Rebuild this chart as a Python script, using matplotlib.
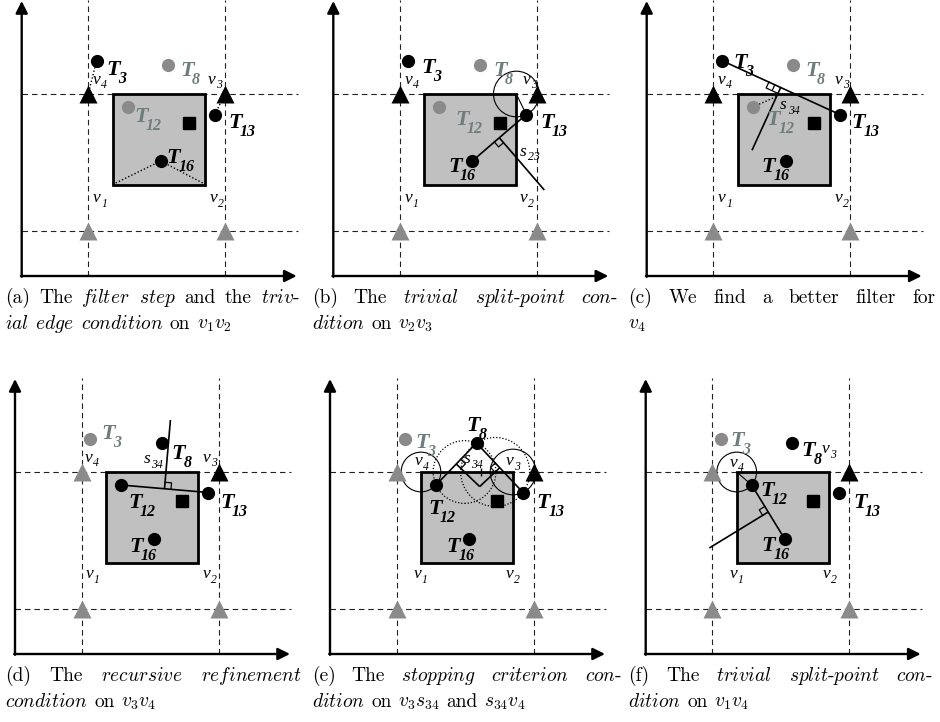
import numpy as np
import matplotlib
matplotlib.use('Agg')
import matplotlib.pyplot as plt
from matplotlib.patches import Rectangle, Circle

plt.rcParams['mathtext.fontset'] = 'cm'

W, H = 940, 722

# sites, query point and grid (local units, origin at the axis corner)
site_names = ['3', '8', '12', '13', '16']
site_x = [75.0, 146.5, 106.0, 193.0, 139.0]
site_y = [215.5, 211.0, 169.0, 161.5, 115.0]
query_x, query_y = 167.0, 153.5
grid_x = [66.5, 203.5]
grid_y = [45.0, 182.0]
cell_x = [91.0, 183.0]
cell_y = [91.0, 182.0]

# which sites are greyed out in each sub-figure
grey_sites = [{'8', '12'}] * 3 + [{'3'}] * 3
grey_v4 = [False] * 3 + [True] * 3

captions = [
    (["(a)", "The", r"$\mathit{filter}$", r"$\mathit{step}$", "and", "the", r"$\mathit{triv}$-"],
     [r"$\mathit{ial}$", r"$\mathit{edge}$", r"$\mathit{condition}$", "on", r"$v_1v_2$"]),
    (["(b)", "The", r"$\mathit{trivial}$", r"$\mathit{split}$-$\mathit{point}$", r"$\mathit{con}$-"],
     [r"$\mathit{dition}$", "on", r"$v_2v_3$"]),
    (["(c)", "We", "find", "a", "better", "filter", "for"],
     [r"$v_4$"]),
    (["(d)", "The", r"$\mathit{recursive}$", r"$\mathit{refinement}$"],
     [r"$\mathit{condition}$", "on", r"$v_3v_4$"]),
    (["(e)", "The", r"$\mathit{stopping}$", r"$\mathit{criterion}$", r"$\mathit{con}$-"],
     [r"$\mathit{dition}$", "on", r"$v_3s_{34}$", "and", r"$s_{34}v_4$"]),
    (["(f)", "The", r"$\mathit{trivial}$", r"$\mathit{split}$-$\mathit{point}$", r"$\mathit{con}$-"],
     [r"$\mathit{dition}$", "on", r"$v_1v_4$"]),
]

# layout
origins = [(21.7, 276), (333.3, 276), (646.7, 276), (15, 654), (330, 654), (645.7, 654)]
cap_span = [(5, 300), (312, 618), (628, 935), (5, 302), (312, 622), (628, 933)]
cap_base = [(303, 329)] * 3 + [(681, 707)] * 3
CAP_SIZE = 14

tpos = [
    {'3': (91.6, 207.7), '8': (165, 206), '12': (119, 160.5), '13': (213.3, 154.3), '16': (151.6, 119.3)},
    {'3': (95, 209.3), '8': (166.7, 206), '12': (128.4, 157.7), '13': (213.4, 154.3), '16': (121.7, 110)},
    {'3': (93.3, 214.3), '8': (165, 206), '12': (126.6, 157.7), '13': (211.6, 154.3), '16': (121.6, 111)},
    {'3': (93.3, 221.3), '8': (163.3, 201.3), '12': (120, 153), '13': (211.7, 153), '16': (121, 108)},
    {'3': (91.7, 213), '8': (143.3, 229.7), '12': (105, 146.3), '13': (213.3, 153), '16': (123.3, 108)},
    {'3': (91, 214.7), '8': (162.6, 204.7), '12': (121, 164.7), '13': (214.3, 153), '16': (122.6, 109.7)},
]
vpos = [
    {'4': (75, 196), '3': (190, 196), '1': (75, 77.7), '2': (191.6, 77.7)},
    {'4': (75, 196), '3': (193, 196), '1': (75, 77.7), '2': (190, 77.7)},
    {'4': (75, 196), '3': (191.6, 196), '1': (75, 77.7), '2': (191.6, 77.7)},
    {'4': (73.3, 196.3), '3': (191.7, 196.3), '1': (74.3, 79.7), '2': (191.7, 79.7)},
    {'4': (88.3, 193), '3': (180, 193), '1': (87.3, 79.7), '2': (180, 79.7)},
    {'4': (87.6, 191.3), '3': (180, 205), '1': (87.6, 79.7), '2': (181, 79.7)},
]

GREY = '#8a8a8a'
GREY_TXT = '#6d7d7d'
SERIF = 'Liberation Serif'


def site(name):
    i = site_names.index(name)
    return np.array([site_x[i], site_y[i]])


def unit(v):
    return v / np.hypot(v[0], v[1])


def perp(d, hint):
    n = np.array([-d[1], d[0]])
    return n if np.dot(n, hint) > 0 else -n


def seg(ax, a, b, **kw):
    style = dict(color='k', lw=1.2, zorder=4, solid_capstyle='butt')
    style.update(kw)
    ax.plot([a[0], b[0]], [a[1], b[1]], **style)


def right_mark(ax, at, u, n, s=6.5, k=1):
    pts = np.array([at + s * k * u, at + s * k * u + s * n, at + s * n])
    ax.plot(pts[:, 0], pts[:, 1], color='k', lw=0.9, zorder=4)
    if k == 2:
        seg(ax, at + s * u, at + s * u + s * n, lw=0.9)


def bisector(ax, a, b, hint, length=69, mark_to=None, k=1):
    mid = (a + b) / 2
    n = perp(unit(b - a), hint)
    if length:
        seg(ax, mid, mid + length * n)
    if mark_to is not None:
        right_mark(ax, mid, unit(mark_to - mid), n, k=k)
    return mid, n


def hit_row(mid, n, y):
    t = (y - mid[1]) / n[1]
    return mid + t * n


def tlabel(ax, xy, sub, color):
    x, y = xy
    ax.text(x, y - 1.5, 'T', ha='center', va='center', fontsize=16, family=SERIF,
            weight='bold', style='italic', color=color, zorder=8)
    ax.text(x + 5, y - 10.5, sub, ha='left', va='center', fontsize=11.5, family=SERIF,
            weight='bold', style='italic', color=color, zorder=8)


def ilabel(ax, xy, letter, sub):
    x, y = xy
    ax.text(x, y, letter, ha='center', va='center', fontsize=12.5, family=SERIF,
            style='italic', color='k', zorder=8)
    ax.text(x + 4.5, y - 5.5, sub, ha='left', va='center', fontsize=8.5, family=SERIF,
            style='italic', color='k', zorder=8)


def base(ax, k):
    ax.set_xlim(-10, 290)
    ax.set_ylim(-10, 290)
    ax.axis('off')
    dash = dict(ls=(0, (5, 3.5)), lw=0.8, color='#222222', zorder=1)
    for gx in grid_x:
        ax.plot([gx, gx], [0, 276], **dash)
    for gy in grid_y:
        ax.plot([0, 276], [gy, gy], **dash)
    arrow = dict(arrowstyle='-|>', lw=1.7, color='k', mutation_scale=18,
                 shrinkA=0, shrinkB=0)
    ax.annotate('', xy=(0, 275), xytext=(0, -0.8), arrowprops=arrow)
    ax.annotate('', xy=(275, 0), xytext=(-0.8, 0), arrowprops=arrow)
    ax.add_patch(Rectangle((cell_x[0], cell_y[0]), cell_x[1] - cell_x[0],
                           cell_y[1] - cell_y[0], fc='#c0c0c0', ec='k', lw=2.0, zorder=2))
    # grid corner triangles
    tri = [(grid_x[0], grid_y[1], GREY if grey_v4[k] else 'k'),
           (grid_x[1], grid_y[1], 'k'),
           (grid_x[0], grid_y[0], GREY),
           (grid_x[1], grid_y[0], GREY)]
    for x, y, c in tri:
        ax.plot(x, y, marker='^', ms=12.5, color=c, mec='none', zorder=5)
    ax.plot(query_x, query_y, marker='s', ms=8, color='k', zorder=6)
    for name, x, y in zip(site_names, site_x, site_y):
        grey = name in grey_sites[k]
        ax.plot(x, y, marker='o', ms=9.5, color=GREY if grey else 'k', mec='none', zorder=6)
        tlabel(ax, tpos[k][name], name, GREY_TXT if grey else 'k')
    for sub, xy in vpos[k].items():
        ilabel(ax, xy, 'v', sub)


fig = plt.figure(figsize=(W / 100, H / 100), dpi=100)
axes = []
for k, (ox, oy) in enumerate(origins):
    ax = fig.add_axes([(ox - 10) / W, (H - oy - 10) / H, 300 / W, 300 / H])
    base(ax, k)
    axes.append(ax)

T3, T8, T12, T13, T16 = (site(n) for n in site_names)
c_tl = np.array([cell_x[0], cell_y[1]])
c_tr = np.array([cell_x[1], cell_y[1]])
c_bl = np.array([cell_x[0], cell_y[0]])
c_br = np.array([cell_x[1], cell_y[0]])
g_tl = np.array([grid_x[0], grid_y[1]])
g_tr = np.array([grid_x[1], grid_y[1]])
dotted = dict(ls=(0, (1, 1.5)), lw=1.0)

# (a) filter step, trivial edge condition on v1v2
ax = axes[0]
seg(ax, c_bl + [3, 2], T16, **dotted)
seg(ax, c_br + [-2, 2], T16, **dotted)
seg(ax, T3, g_tl, **dotted)
seg(ax, T13, g_tr, **dotted)

# (b) trivial split-point condition on v2v3
ax = axes[1]
ax.add_patch(Circle(c_tr, np.hypot(*(T13 - c_tr)), fill=False, lw=0.8, ec='k', zorder=4))
seg(ax, c_tr, T13, lw=0.8)
seg(ax, T16, T13)
bisector(ax, T16, T13, hint=(1, -1), mark_to=T16)
ilabel(ax, (190, 124.3), 's', '23')

# (c) a better filter for v4
ax = axes[2]
seg(ax, T3, T13)
mid, n = bisector(ax, T3, T13, hint=(0, -1), mark_to=T3, k=2)
seg(ax, T12, mid + 10 * n, **dotted)
ilabel(ax, (136.6, 171), 's', '34')

# (d) recursive refinement on v3v4
ax = axes[3]
seg(ax, T12, T13)
bisector(ax, T12, T13, hint=(0, 1), mark_to=T13)
ilabel(ax, (131.7, 194.7), 's', '34')

# (e) stopping criterion on v3s34 and s34v4
ax = axes[4]
m0, n0 = bisector(ax, T12, T13, hint=(0, 1), length=0)
s34 = hit_row(m0, n0, cell_y[1])
seg(ax, s34 + [0, -4], s34 + [0, 4], lw=1.0)
seg(ax, T8, T12)
seg(ax, T8, T13)
m1, n1 = bisector(ax, T12, T8, hint=(1, -1), length=0, mark_to=T8)
m2, n2 = bisector(ax, T13, T8, hint=(-1, -1), length=0, mark_to=T8)
t = np.linalg.solve(np.column_stack([n1, -n2]), m2 - m1)
centre = m1 + t[0] * n1
seg(ax, m1, centre)
seg(ax, m2, centre)
for m, nn in ((m1, n1), (m2, n2)):
    c = hit_row(m, nn, cell_y[1])
    ax.add_patch(Circle(c, np.hypot(*(T8 - c)), fill=False, lw=0.9, ec='k',
                        ls=(0, (1, 1.5)), zorder=4))
ax.add_patch(Circle(c_tl, np.hypot(*(T12 - c_tl)), fill=False, lw=0.8, ec='k', zorder=4))
ax.add_patch(Circle(c_tr, np.hypot(*(T13 - c_tr)), fill=False, lw=0.8, ec='k', zorder=4))
ilabel(ax, (137, 195), 's', '34')

# (f) trivial split-point condition on v1v4
ax = axes[5]
ax.add_patch(Circle(c_tl, np.hypot(*(T12 - c_tl)), fill=False, lw=0.8, ec='k', zorder=4))
seg(ax, c_tl, T12, lw=0.8)
seg(ax, T12, T16)
bisector(ax, T12, T16, hint=(-1, 0), mark_to=T12)

# captions, first line justified
renderer = fig.canvas.get_renderer()
space = 0.33 * CAP_SIZE * 100 / 72


def caption_line(x0, x1, ybase, words, justify):
    items = [fig.text(0, 1 - ybase / H, w, fontsize=CAP_SIZE, family='cmr10', va='baseline')
             for w in words]
    widths = [t.get_window_extent(renderer).width for t in items]
    gap = (x1 - x0 - sum(widths)) / (len(items) - 1) if justify and len(items) > 1 else space
    x = x0
    for t, w in zip(items, widths):
        t.set_x(x / W)
        x += w + gap


for (line1, line2), (x0, x1), (y1, y2) in zip(captions, cap_span, cap_base):
    caption_line(x0, x1, y1, line1, True)
    caption_line(x0, x1, y2, line2, False)

fig.savefig('out.png', dpi=100)
